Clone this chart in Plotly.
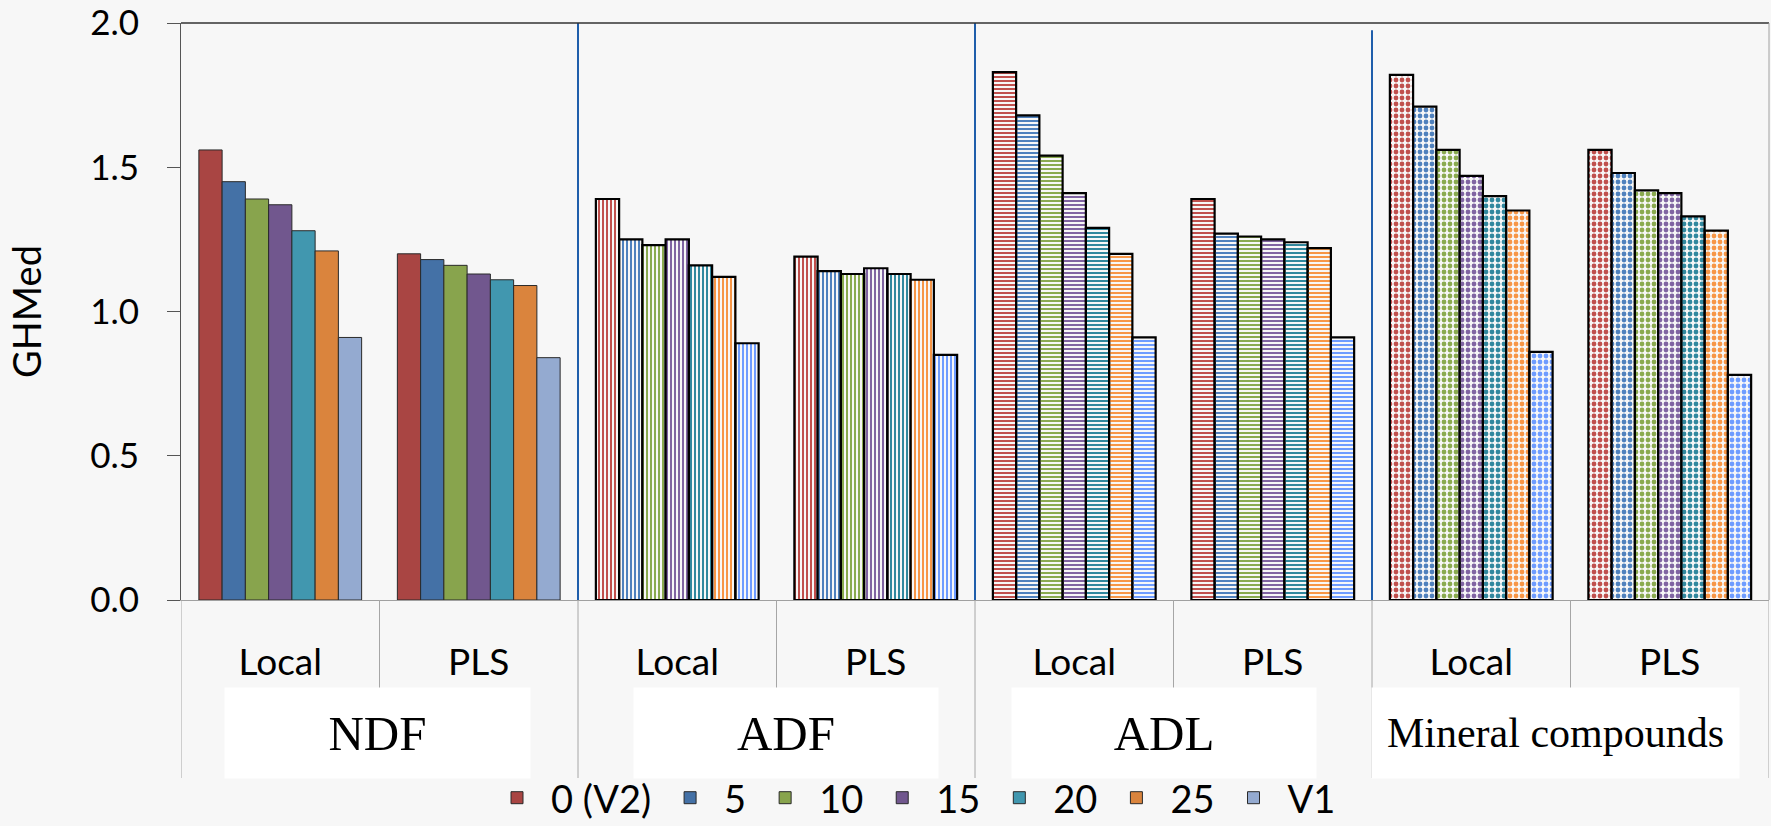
import plotly.graph_objects as go

# Category axis: four fibre/mineral fractions, each with two calibration methods
measures = ["NDF", "ADF", "ADL", "Mineral compounds"]
methods = ["Local", "PLS"]
categories = [f"{m} {k}" for m in measures for k in methods]
tick_labels = [k for m in measures for k in methods]

# GHMed per series, in category order (NDF Local, NDF PLS, ADF Local, ...)
series_names = ["0 (V2)", "5", "10", "15", "20", "25", "V1"]
ghmed_v2 = [1.56, 1.20, 1.39, 1.19, 1.83, 1.39, 1.82, 1.56]
ghmed_5 = [1.45, 1.18, 1.25, 1.14, 1.68, 1.27, 1.71, 1.48]
ghmed_10 = [1.39, 1.16, 1.23, 1.13, 1.54, 1.26, 1.56, 1.42]
ghmed_15 = [1.37, 1.13, 1.25, 1.15, 1.41, 1.25, 1.47, 1.41]
ghmed_20 = [1.28, 1.11, 1.16, 1.13, 1.29, 1.24, 1.40, 1.33]
ghmed_25 = [1.21, 1.09, 1.12, 1.11, 1.20, 1.22, 1.35, 1.28]
ghmed_v1 = [0.91, 0.84, 0.89, 0.85, 0.91, 0.91, 0.86, 0.78]
series_values = [ghmed_v2, ghmed_5, ghmed_10, ghmed_15, ghmed_20, ghmed_25, ghmed_v1]

# Styling
solid_colors = ["#A94543", "#4471A6", "#88A44D", "#71578E", "#4197AF", "#DA843D", "#94AAD0"]
pattern_colors = ["#C0504D", "#4F81BD", "#8AAA4F", "#8064A2", "#31889E", "#F79646", "#6E9CFF"]
measure_patterns = {"NDF": "", "ADF": "|", "ADL": "-", "Mineral compounds": "."}

W, H = 1771, 826
L, R, T, B = 181, 1769, 23, 600
PW, PH = R - L, B - T
SANS = "Lato"
SERIF = "Liberation Serif"


def px_x(px):
    return (px - L) / PW


def px_y(py):
    return (B - py) / PH


point_measures = [m for m in measures for _ in methods]
shapes_per_point = [measure_patterns[m] for m in point_measures]
pattern_size = [4 if s in "|-" else 6 for s in shapes_per_point]
pattern_solidity = [0.5 for s in shapes_per_point]
line_w = [1 if s == "" else 2.2 for s in shapes_per_point]
line_c = ["#2a2a2a" if s == "" else "#000000" for s in shapes_per_point]

fig = go.Figure()
for name, vals, sc, pc in zip(series_names, series_values, solid_colors, pattern_colors):
    fg = [sc if s == "" else pc for s in shapes_per_point]
    fig.add_trace(go.Bar(
        name=name,
        x=categories,
        y=vals,
        marker=dict(
            color=fg,
            line=dict(color=line_c, width=line_w),
            pattern=dict(shape=shapes_per_point, fgcolor=fg, bgcolor="white",
                         size=pattern_size, solidity=pattern_solidity, fillmode="replace"),
        ),
        hovertemplate="%{x}<br>" + name + ": %{y:.2f}<extra></extra>",
    ))

shapes = []
# blue dividers between fractions inside the plot
for xb, ytop in [(1.5, 2.0), (3.5, 2.0), (5.5, 1.975)]:
    shapes.append(dict(type="line", xref="x", yref="y", x0=xb, x1=xb, y0=0, y1=ytop,
                       line=dict(color="#1F5EAB", width=2)))
# category separators below the axis
for xb in [0.5, 2.5, 4.5, 6.5]:
    shapes.append(dict(type="line", xref="x", yref="paper", x0=xb, x1=xb,
                       y0=0, y1=px_y(688), line=dict(color="#A6A6A6", width=1)))
for xb in [-0.5, 1.5, 3.5, 5.5, 7.5]:
    shapes.append(dict(type="line", xref="x", yref="paper", x0=xb, x1=xb,
                       y0=0, y1=px_y(778), line=dict(color="#A6A6A6", width=1)))
# plot frame: top and right edges
shapes.append(dict(type="line", xref="paper", yref="paper", x0=0, x1=1, y0=1, y1=1,
                   line=dict(color="#333333", width=1.3)))
shapes.append(dict(type="line", xref="paper", yref="paper", x0=1, x1=1, y0=0, y1=1,
                   line=dict(color="#A0A0A0", width=1)))

# fraction labels in white boxes
group_boxes = [
    ("NDF", 226, 529, 49),
    ("ADF", 635, 937, 49),
    ("ADL", 1013, 1315, 49),
    ("Mineral compounds", 1373, 1738, 42),
]
annotations = []
for text, x0, x1, fs in group_boxes:
    annotations.append(dict(
        text=text, xref="paper", yref="paper",
        x=px_x((x0 + x1) / 2), y=px_y(733), xanchor="center", yanchor="middle",
        showarrow=False, bgcolor="white", width=x1 - x0, height=88,
        font=dict(family=SERIF, size=fs, color="#000000"),
    ))

fig.update_layout(
    width=W, height=H,
    margin=dict(l=L, r=W - R, t=T, b=H - B, pad=0, autoexpand=False),
    paper_bgcolor="#F7F7F7", plot_bgcolor="#F7F7F7",
    barmode="group", bargap=0.18, bargroupgap=0,
    shapes=shapes, annotations=annotations,
    showlegend=True,
    legend=dict(orientation="h", x=px_x(912), y=px_y(798), xanchor="center", yanchor="middle",
                font=dict(family=SANS, size=38, color="#000000"), bgcolor="rgba(0,0,0,0)",
                traceorder="normal", itemwidth=58),
    font=dict(family=SANS, color="#000000"),
)
fig.update_xaxes(
    type="category", categoryorder="array", categoryarray=categories,
    tickvals=categories, ticktext=tick_labels,
    tickfont=dict(family=SANS, size=37, color="#000000"),
    ticks="", ticklabelstandoff=30,
    showline=True, linecolor="#A0A0A0", linewidth=1, showgrid=False, zeroline=False,
    range=[-0.5, 7.5],
)
fig.update_yaxes(
    range=[0, 2], tickvals=[0, 0.5, 1.0, 1.5, 2.0], tickformat=".1f",
    tickfont=dict(family=SANS, size=35, color="#000000"),
    ticks="outside", ticklen=13, tickcolor="#555555", ticklabelstandoff=21,
    showline=True, linecolor="#555555", linewidth=1, showgrid=False, zeroline=False,
    title=dict(text="GHMed", font=dict(family=SANS, size=38, color="#000000"), standoff=36),
)

fig.write_html("out.html")
